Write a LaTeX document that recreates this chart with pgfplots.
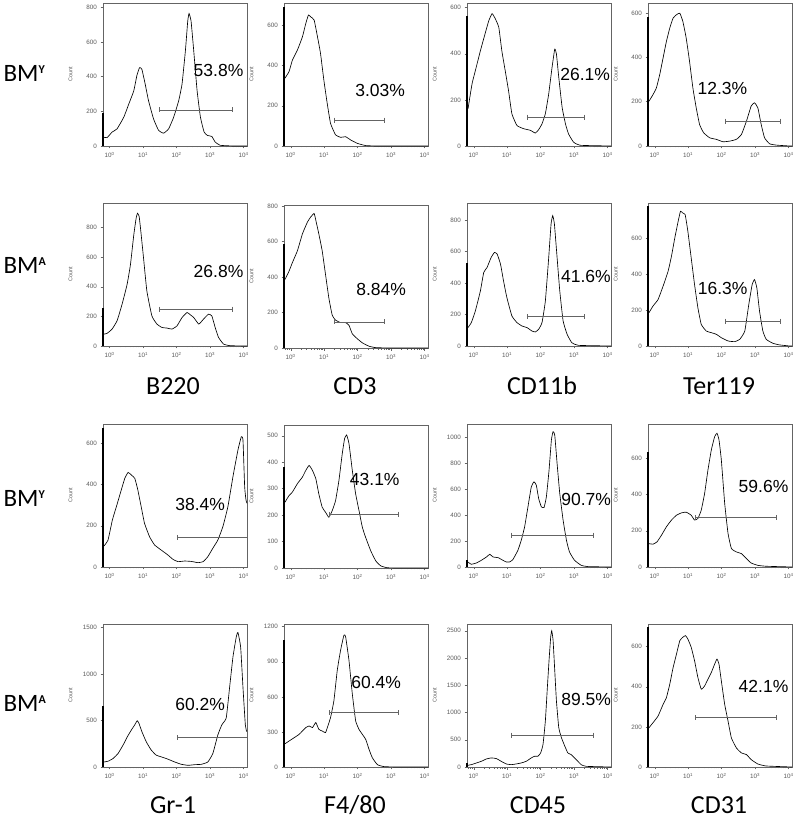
\documentclass[border=0pt]{standalone}
\usepackage{fontspec}
\setmainfont{Liberation Sans}
\newfontfamily\calib{Carlito}
\usepackage{pgfplots}
\pgfplotsset{compat=1.18}
\definecolor{frame}{RGB}{100,100,100}
\definecolor{tl}{RGB}{90,90,90}
\pgfplotsset{
  fc/.style={
    scale only axis, width=144pt, height=143pt,
    xmin=-0.2, xmax=4.1, ymin=0,
    axis line style={frame, line width=0.5pt},
    tick style={frame, line width=0.4pt},
    tick align=outside, xtick pos=left, ytick pos=left,
    major tick length=2.5pt, minor tick length=1.5pt,
    xtick={0,1,2,3,4},
    xticklabels={10\textsuperscript{0},10\textsuperscript{1},10\textsuperscript{2},10\textsuperscript{3},10\textsuperscript{4}},
    minor xtick={-0.155,-0.097,-0.046,0.301,0.477,0.602,0.699,0.778,0.845,0.903,0.954,1.301,1.477,1.602,1.699,1.778,1.845,1.903,1.954,2.301,2.477,2.602,2.699,2.778,2.845,2.903,2.954,3.301,3.477,3.602,3.699,3.778,3.845,3.903,3.954},
    tick label style={font=\fontsize{6.3}{7}\selectfont, text=tl},
    /pgf/number format/assume math mode=true,
    /pgf/number format/set thousands separator={},
    scaled y ticks=false,
    ylabel={Count},
    ylabel style={font=\fontsize{5.5}{5.5}\selectfont, text=tl, at={(axis description cs:-0.225,0.5)}, anchor=center},
    clip=false,
  },
  hcurve/.style={black, line width=0.65pt, mark=none, smooth, tension=0.25},
  lbar/.style={black, line width=2.2pt, mark=none},
  gate/.style={frame, line width=0.8pt, mark=|, mark size=2.5pt, mark options={line width=0.8pt}},
}
\newcommand{\pct}{\fontsize{17.5}{17.5}\selectfont}
\newcommand{\rowlab}[1]{{\calib\fontsize{25}{25}\selectfont BM\raisebox{7.5pt}{\fontsize{12}{12}\selectfont\bfseries #1}}}
\newcommand{\collab}{\calib\fontsize{26}{26}\selectfont}
\begin{document}
\begin{tikzpicture}
\useasboundingbox (0,0) rectangle (796pt,821pt);
% row labels
\node[anchor=west] at (0pt,748pt) {\rowlab{Y}};
\node[anchor=west] at (0pt,556pt) {\rowlab{A}};
\node[anchor=west] at (0pt,323pt) {\rowlab{Y}};
\node[anchor=west] at (0pt,118pt) {\rowlab{A}};
% column labels
\node[anchor=base, font=\collab] at (173pt,426pt) {B220};
\node[anchor=base, font=\collab] at (355pt,426pt) {CD3};
\node[anchor=base, font=\collab] at (542pt,426pt) {CD11b};
\node[anchor=base, font=\collab] at (719pt,426pt) {Ter119};
\node[anchor=base, font=\collab] at (173pt,8pt) {Gr-1};
\node[anchor=base, font=\collab] at (355pt,8pt) {F4/80};
\node[anchor=base, font=\collab] at (538pt,8pt) {CD45};
\node[anchor=base, font=\collab] at (719pt,8pt) {CD31};

% ===== Row 1 =====
\begin{axis}[fc, at={(103pt,818pt)}, anchor=north west, ymax=825, ytick={0,200,400,600,800}]
\addplot[hcurve] coordinates {(-0.20,52) (-0.08,48) (0.07,80) (0.22,99) (0.42,166) (0.57,242) (0.72,319) (0.81,405) (0.89,452) (0.96,443) (1.06,357) (1.16,261) (1.31,156) (1.46,90) (1.61,74) (1.76,99) (1.91,166) (2.06,261) (2.16,357) (2.26,548) (2.33,720) (2.37,764) (2.43,720) (2.51,548) (2.61,319) (2.71,166) (2.82,80) (2.92,61) (3.05,55) (3.15,23) (3.30,4) (3.70,0) (4.10,0)};
\addplot[gate] coordinates {(1.49,208) (3.67,208)};
\addplot[lbar] coordinates {(-0.193,0) (-0.193,190)};
\node[font=\pct] at (axis cs:3.25,433) {53.8\%};
\end{axis}

\begin{axis}[fc, at={(284pt,818pt)}, anchor=north west, ymax=710, ytick={0,200,400,600}]
\addplot[hcurve] coordinates {(-0.18,335) (-0.05,369) (0.05,426) (0.20,476) (0.35,542) (0.45,608) (0.53,650) (0.60,641) (0.70,625) (0.80,542) (0.89,460) (0.99,327) (1.09,212) (1.19,112) (1.34,55) (1.49,43) (1.64,46) (1.79,30) (1.99,13) (2.24,2) (2.60,0) (4.10,0)};
\addplot[gate] coordinates {(1.31,129) (2.79,129)};
\addplot[lbar] coordinates {(-0.193,0) (-0.193,690)};
\node[font=\pct] at (axis cs:2.67,278) {3.03\%};
\end{axis}

\begin{axis}[fc, at={(467pt,818pt)}, anchor=north west, ymax=620, ytick={0,200,400,600}]
\addplot[hcurve] coordinates {(-0.17,161) (-0.05,269) (0.05,327) (0.20,413) (0.35,492) (0.45,543) (0.55,574) (0.65,550) (0.75,514) (0.84,413) (0.94,327) (1.04,240) (1.14,140) (1.29,89) (1.49,75) (1.69,68) (1.84,56) (1.94,71) (2.04,96) (2.14,140) (2.24,226) (2.34,341) (2.42,420) (2.47,399) (2.54,298) (2.64,168) (2.74,96) (2.83,53) (2.98,17) (3.18,3) (4.10,0)};
\addplot[gate] coordinates {(1.59,125) (3.30,125)};
\addplot[lbar] coordinates {(-0.193,0) (-0.193,564)};
\node[font=\pct] at (axis cs:3.33,309) {26.1\%};
\end{axis}

\begin{axis}[fc, at={(648pt,818pt)}, anchor=north west, ymax=645, ytick={0,200,400,600}]
\addplot[hcurve] coordinates {(-0.17,202) (-0.05,232) (0.05,262) (0.15,322) (0.25,397) (0.35,472) (0.45,532) (0.55,577) (0.65,592) (0.75,599) (0.84,562) (0.94,487) (1.04,382) (1.14,262) (1.24,172) (1.34,97) (1.46,60) (1.64,37) (1.84,30) (2.04,19) (2.24,22) (2.44,30) (2.59,52) (2.74,112) (2.88,180) (2.98,195) (3.08,172) (3.18,97) (3.28,37) (3.43,10) (3.63,4) (4.03,0) (4.10,0)};
\addplot[gate] coordinates {(2.12,112) (3.76,112)};
\addplot[lbar] coordinates {(-0.193,0) (-0.193,584)};
\node[font=\pct] at (axis cs:2.02,259) {12.3\%};
\end{axis}

% ===== Row 2 =====
\begin{axis}[fc, at={(103pt,618pt)}, anchor=north west, ymax=965, ytick={0,200,400,600,800}]
\addplot[hcurve] coordinates {(-0.18,80) (-0.08,85) (0.07,114) (0.22,170) (0.37,282) (0.52,416) (0.62,550) (0.72,751) (0.79,863) (0.83,896) (0.88,874) (0.93,773) (1.01,595) (1.11,371) (1.26,203) (1.41,148) (1.56,125) (1.71,121) (1.86,114) (2.01,136) (2.16,192) (2.31,226) (2.41,210) (2.51,192) (2.66,148) (2.80,181) (2.95,215) (3.05,203) (3.15,125) (3.25,58) (3.40,13) (3.60,2) (4.10,0)};
\addplot[gate] coordinates {(1.49,248) (3.67,248)};
\addplot[lbar] coordinates {(-0.193,0) (-0.193,259)};
\node[font=\pct] at (axis cs:3.25,505) {26.8\%};
\end{axis}

\begin{axis}[fc, at={(284pt,616pt)}, anchor=north west, ymax=806, ytick={0,200,400,600,800}]
\addplot[hcurve] coordinates {(-0.17,386) (-0.05,433) (0.05,481) (0.20,548) (0.35,643) (0.50,710) (0.60,739) (0.70,758) (0.75,720) (0.84,643) (0.94,548) (1.04,414) (1.14,281) (1.24,185) (1.34,157) (1.49,143) (1.64,143) (1.74,128) (1.84,80) (1.99,52) (2.14,29) (2.34,10) (2.54,2) (3.00,0) (4.10,0)};
\addplot[gate] coordinates {(1.31,147) (2.79,147)};
\addplot[lbar] coordinates {(-0.193,0) (-0.193,586)};
\node[font=\pct] at (axis cs:2.70,330) {8.84\%};
\end{axis}

\begin{axis}[fc, at={(467pt,618pt)}, anchor=north west, ymax=908, ytick={0,200,400,600,800}]
\addplot[hcurve] coordinates {(-0.17,117) (-0.07,149) (0.05,223) (0.20,350) (0.30,467) (0.40,499) (0.52,562) (0.62,594) (0.70,584) (0.80,520) (0.89,414) (0.99,308) (1.14,191) (1.29,149) (1.44,127) (1.59,117) (1.74,95) (1.84,89) (1.94,106) (2.04,149) (2.14,286) (2.24,562) (2.31,774) (2.36,828) (2.41,774) (2.49,562) (2.57,350) (2.67,159) (2.79,74) (2.93,21) (3.13,4) (4.10,0)};
\addplot[gate] coordinates {(1.59,185) (3.30,185)};
\addplot[lbar] coordinates {(-0.193,0) (-0.193,530)};
\node[font=\pct] at (axis cs:3.35,439) {41.6\%};
\end{axis}

\begin{axis}[fc, at={(648pt,618pt)}, anchor=north west, ymax=794, ytick={0,200,400,600}]
\addplot[hcurve] coordinates {(-0.17,185) (-0.05,222) (0.10,258) (0.25,332) (0.40,415) (0.50,498) (0.60,600) (0.70,692) (0.77,748) (0.84,738) (0.91,729) (0.99,637) (1.09,489) (1.19,341) (1.29,212) (1.39,120) (1.54,83) (1.69,74) (1.84,65) (1.99,46) (2.19,28) (2.39,24) (2.54,37) (2.69,83) (2.81,231) (2.91,341) (2.98,369) (3.05,323) (3.13,194) (3.23,83) (3.33,37) (3.53,15) (3.73,6) (4.03,0) (4.10,0)};
\addplot[gate] coordinates {(2.12,138) (3.76,138)};
\addplot[lbar] coordinates {(-0.193,0) (-0.193,775)};
\node[font=\pct] at (axis cs:2.03,318) {16.3\%};
\end{axis}

% ===== Row 3 =====
\begin{axis}[fc, at={(103pt,397pt)}, anchor=north west, ymax=694, ytick={0,200,400,600}]
\addplot[hcurve] coordinates {(-0.17,102) (-0.05,131) (0.08,228) (0.20,293) (0.33,365) (0.45,430) (0.55,459) (0.65,446) (0.75,430) (0.84,374) (0.94,293) (1.04,212) (1.19,147) (1.34,107) (1.54,82) (1.74,58) (1.89,37) (2.04,26) (2.24,29) (2.44,27) (2.64,21) (2.79,26) (2.93,50) (3.08,91) (3.23,131) (3.38,196) (3.53,293) (3.68,438) (3.83,568) (3.93,632) (3.98,616) (4.03,390) (4.07,325) (4.10,309)};
\addplot[gate, mark indices={1}] coordinates {(2.02,144) (4.10,144)};
\addplot[lbar] coordinates {(-0.193,0) (-0.193,673)};
\node[font=\pct] at (axis cs:2.70,301) {38.4\%};
\end{axis}

\begin{axis}[fc, at={(284pt,396pt)}, anchor=north west, ymax=541, ytick={0,100,200,300,400,500}]
\addplot[hcurve] coordinates {(-0.17,249) (-0.05,274) (0.05,287) (0.20,319) (0.35,344) (0.45,369) (0.55,388) (0.65,369) (0.75,338) (0.84,280) (0.94,230) (1.04,211) (1.14,192) (1.24,217) (1.34,255) (1.44,331) (1.54,433) (1.61,490) (1.67,503) (1.74,471) (1.84,369) (1.94,280) (2.04,217) (2.14,154) (2.24,115) (2.39,65) (2.54,27) (2.69,8) (2.88,1) (3.20,0) (4.10,0)};
\addplot[gate] coordinates {(1.17,204) (3.22,204)};
\addplot[lbar] coordinates {(-0.193,0) (-0.193,382)};
\node[font=\pct] at (axis cs:2.51,335) {43.1\%};
\end{axis}

\begin{axis}[fc, at={(467pt,397pt)}, anchor=north west, ymax=1103, ytick={0,200,400,600,800,1000}]
\addplot[hcurve] coordinates {(-0.18,39) (-0.07,21) (0.08,31) (0.23,52) (0.38,77) (0.48,98) (0.58,77) (0.73,72) (0.87,52) (0.97,39) (1.07,39) (1.17,57) (1.32,129) (1.42,206) (1.52,309) (1.62,464) (1.72,618) (1.80,657) (1.87,631) (1.94,528) (2.02,464) (2.10,459) (2.17,541) (2.25,747) (2.32,979) (2.37,1044) (2.42,1018) (2.49,799) (2.57,567) (2.67,361) (2.77,206) (2.86,116) (3.01,52) (3.21,13) (3.41,3) (4.10,0)};
\addplot[gate] coordinates {(1.12,245) (3.56,245)};
\addplot[lbar] coordinates {(-0.193,0) (-0.193,52)};
\node[font=\pct] at (axis cs:3.36,521) {90.7\%};
\end{axis}

\begin{axis}[fc, at={(648pt,397pt)}, anchor=north west, ymax=790, ytick={0,200,400,600}]
\addplot[hcurve] coordinates {(-0.17,129) (-0.05,126) (0.07,139) (0.20,175) (0.35,222) (0.50,259) (0.65,286) (0.80,299) (0.94,303) (1.09,286) (1.19,259) (1.29,268) (1.39,314) (1.49,406) (1.59,536) (1.69,646) (1.79,720) (1.86,739) (1.92,702) (1.99,591) (2.09,351) (2.19,185) (2.29,102) (2.44,83) (2.59,74) (2.74,46) (2.88,22) (3.08,9) (3.33,4) (4.10,0)};
\addplot[gate] coordinates {(1.22,273) (3.63,273)};
\addplot[lbar] coordinates {(-0.193,0) (-0.193,637)};
\node[font=\pct] at (axis cs:3.25,443) {59.6\%};
\end{axis}

% ===== Row 4 =====
\begin{axis}[fc, at={(103pt,197pt)}, anchor=north west, ymax=1536, ytick={0,500,1000,1500}]
\addplot[hcurve] coordinates {(-0.17,54) (-0.05,62) (0.10,91) (0.25,145) (0.40,236) (0.53,327) (0.65,399) (0.75,454) (0.82,497) (0.87,472) (0.96,381) (1.09,272) (1.24,182) (1.39,127) (1.54,109) (1.74,84) (1.94,54) (2.14,29) (2.34,18) (2.54,25) (2.74,29) (2.93,54) (3.08,145) (3.23,345) (3.35,454) (3.48,527) (3.58,853) (3.68,1180) (3.78,1398) (3.83,1445) (3.91,1289) (3.98,853) (4.05,454) (4.09,381)};
\addplot[gate, mark indices={1}] coordinates {(2.02,316) (4.10,316)};
\addplot[lbar] coordinates {(-0.193,0) (-0.193,654)};
\node[font=\pct] at (axis cs:2.70,672) {60.2\%};
\end{axis}

\begin{axis}[fc, at={(284pt,197pt)}, anchor=north west, ymax=1223, ytick={0,300,600,900,1200}]
\addplot[hcurve] coordinates {(-0.17,199) (-0.05,222) (0.10,250) (0.25,279) (0.35,308) (0.45,337) (0.55,351) (0.65,337) (0.75,380) (0.84,322) (0.94,308) (1.04,294) (1.11,351) (1.19,423) (1.29,567) (1.39,826) (1.49,999) (1.59,1128) (1.64,1114) (1.74,912) (1.84,625) (1.94,394) (2.04,322) (2.14,279) (2.24,236) (2.34,150) (2.44,78) (2.59,20) (2.79,3) (3.20,0) (4.10,0)};
\addplot[gate] coordinates {(1.17,466) (3.22,466)};
\addplot[lbar] coordinates {(-0.193,0) (-0.193,1085)};
\node[font=\pct] at (axis cs:2.55,725) {60.4\%};
\end{axis}

\begin{axis}[fc, at={(467pt,197pt)}, anchor=north west, ymax=2623, ytick={0,500,1000,1500,2000,2500}]
\addplot[hcurve] coordinates {(-0.18,31) (-0.07,43) (0.08,74) (0.23,105) (0.38,148) (0.53,167) (0.68,154) (0.82,105) (0.97,56) (1.12,43) (1.27,56) (1.42,74) (1.57,105) (1.72,167) (1.82,198) (1.92,198) (2.00,259) (2.07,414) (2.14,846) (2.20,1463) (2.25,1957) (2.30,2389) (2.33,2500) (2.37,2327) (2.42,1772) (2.47,1216) (2.54,722) (2.62,537) (2.72,383) (2.81,259) (2.91,228) (3.01,167) (3.11,105) (3.21,43) (3.36,12) (4.10,0)};
\addplot[gate] coordinates {(1.12,586) (3.56,586)};
\addplot[lbar] coordinates {(-0.193,0) (-0.193,74)};
\node[font=\pct] at (axis cs:3.36,1247) {89.5\%};
\end{axis}

\begin{axis}[fc, at={(648pt,197pt)}, anchor=north west, ymax=713, ytick={0,200,400,600}]
\addplot[hcurve] coordinates {(-0.17,196) (-0.05,221) (0.10,254) (0.25,312) (0.35,346) (0.45,413) (0.55,496) (0.65,563) (0.75,630) (0.84,647) (0.92,655) (0.99,638) (1.09,597) (1.19,530) (1.29,446) (1.39,388) (1.49,404) (1.59,438) (1.69,471) (1.79,513) (1.86,538) (1.92,513) (1.99,429) (2.09,312) (2.19,229) (2.29,145) (2.44,95) (2.59,70) (2.74,62) (2.88,37) (3.08,15) (3.33,5) (4.10,0)};
\addplot[gate] coordinates {(1.22,246) (3.63,246)};
\addplot[lbar] coordinates {(-0.193,0) (-0.193,697)};
\node[font=\pct] at (axis cs:3.25,401) {42.1\%};
\end{axis}
\end{tikzpicture}
\end{document}
